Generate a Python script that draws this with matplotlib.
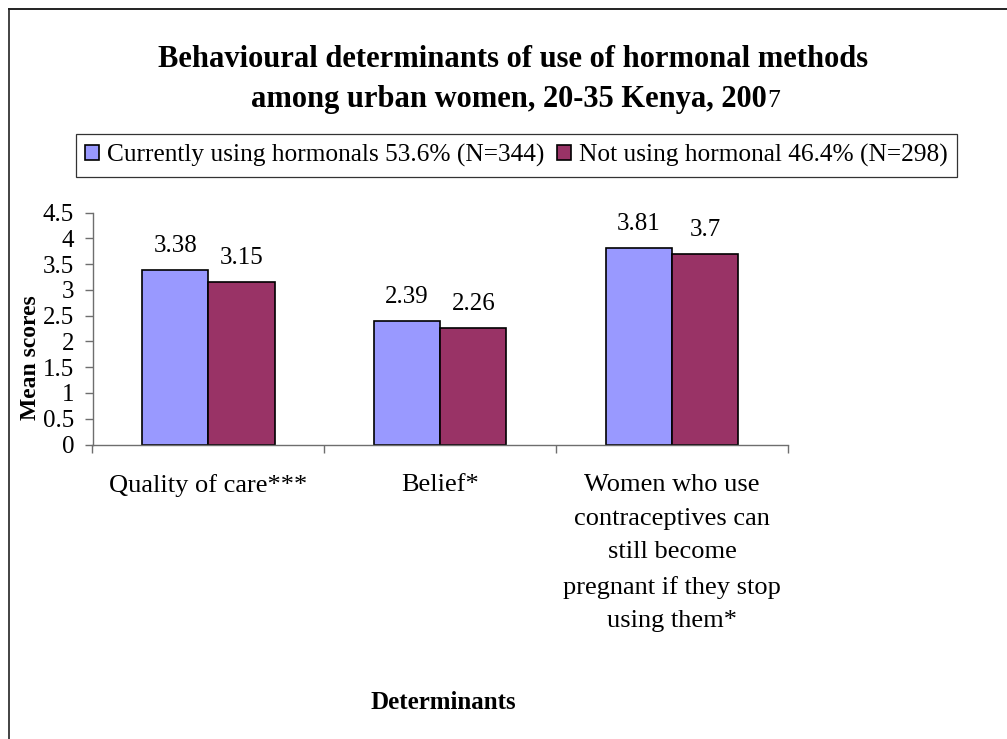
import numpy as np
import matplotlib
matplotlib.use("Agg")
import matplotlib.pyplot as plt
from matplotlib.lines import Line2D

plt.rcParams['font.family'] = ['Liberation Serif', 'DejaVu Serif']

categories = ["Quality of care***", "Belief*",
              "Women who use\ncontraceptives can\nstill become\npregnant if they stop\nusing them*"]
using = [3.38, 2.39, 3.81]
not_using = [3.15, 2.26, 3.7]
series_names = ["Currently using hormonals 53.6% (N=344)",
                "Not using hormonal 46.4% (N=298)"]
yticks = [0, 0.5, 1, 1.5, 2, 2.5, 3, 3.5, 4, 4.5]

W, H = 1007, 739
fig = plt.figure(figsize=(W / 100, H / 100), dpi=100)
fig.patch.set_facecolor('white')

# outer frame (left and top edges only are visible)
fig.add_artist(Line2D([8.5 / W, 8.5 / W], [0, 1 - 9.3 / H], transform=fig.transFigure,
                      color='#222222', lw=1.2))
fig.add_artist(Line2D([8.5 / W, 1], [1 - 9.3 / H, 1 - 9.3 / H], transform=fig.transFigure,
                      color='#222222', lw=1.4))

left, right, top, bottom = 92.5, 788, 212.7, 444.5
ax = fig.add_axes([left / W, 1 - bottom / H, (right - left) / W, (bottom - top) / H])

x = np.arange(len(categories))
w = 1 / 3.5
b1 = ax.bar(x - w / 2, using, w, color='#9999FF', edgecolor='black', linewidth=1.2,
            label=series_names[0])
b2 = ax.bar(x + w / 2, not_using, w, color='#993366', edgecolor='black', linewidth=1.2,
            label=series_names[1])

for bars, vals in ((b1, using), (b2, not_using)):
    for r, v in zip(bars, vals):
        ax.annotate(str(v), xy=(r.get_x() + r.get_width() / 2, v), xytext=(0, 13),
                    textcoords='offset points', ha='center', va='baseline', fontsize=18)

ax.set_xlim(-0.5, len(categories) - 0.5)
ax.set_ylim(0, 4.5)
ax.set_yticks(yticks)
ax.set_yticklabels([f"{t:g}" for t in yticks], fontsize=18)

ax.set_xticks(np.arange(len(categories) + 1) - 0.5)
ax.set_xticklabels([])
ax.set_xticks(x, minor=True)
ax.set_xticklabels(categories, minor=True, fontsize=19, linespacing=1.68)
ax.tick_params(axis='x', which='minor', length=0, pad=21.5)
ax.tick_params(axis='x', which='major', length=8 * 0.72, width=1, color='#6e6e6e', direction='out')
ax.tick_params(axis='y', length=8 * 0.72, width=1, color='#6e6e6e', direction='out', pad=7.5)

for s in ('top', 'right'):
    ax.spines[s].set_visible(False)
for s in ('left', 'bottom'):
    ax.spines[s].set_color('#6e6e6e')
    ax.spines[s].set_linewidth(1)

ax.set_ylabel("Mean scores", fontsize=17, fontweight='bold')
ax.yaxis.set_label_coords(-0.074, 0.375)
ax.set_xlabel("Determinants", fontsize=18, fontweight='bold')
ax.xaxis.label.set_va('baseline')
ax.xaxis.set_label_coords(0.505, -(709 - bottom) / (bottom - top))

# title: last digit of the year is in regular weight
fig.text(513.5 / W, 1 - 67 / H, "Behavioural determinants of use of hormonal methods",
         ha='center', va='baseline', fontsize=22, fontweight='bold')
fig.text(767 / W, 1 - 107 / H, "among urban women, 20-35 Kenya, 200",
         ha='right', va='baseline', fontsize=22, fontweight='bold')
fig.text(767 / W, 1 - 107 / H, "7", ha='left', va='baseline', fontsize=18.5)

leg = fig.legend(handles=[b1, b2], labels=series_names, loc='center',
                 bbox_to_anchor=(516.5 / W, 1 - 155.5 / H), ncol=2, fontsize=18.3,
                 frameon=True, fancybox=False, edgecolor='black', handlelength=0.55,
                 handleheight=0.55, handletextpad=0.3, columnspacing=0.5, borderpad=0.38)
leg.get_frame().set_linewidth(0.9)

fig.savefig("out.png", dpi=100, facecolor='white')
